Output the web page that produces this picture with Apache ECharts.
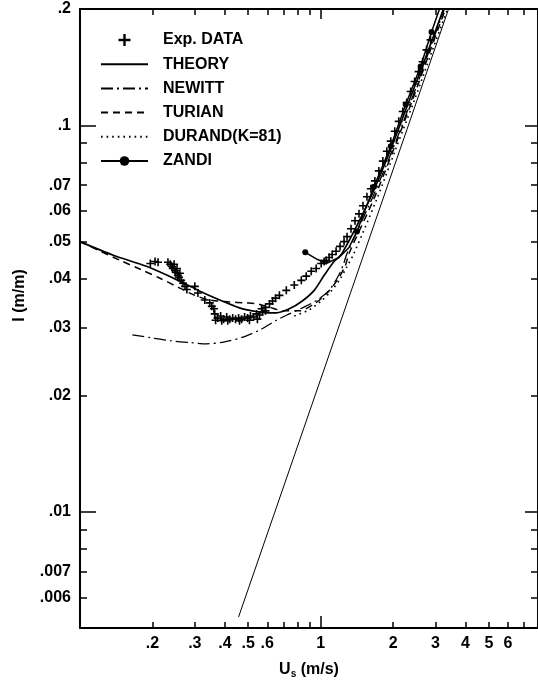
<!DOCTYPE html>
<html><head><meta charset="utf-8">
<script src="https://cdn.jsdelivr.net/npm/echarts@6/dist/echarts.min.js"></script>
<style>html,body{margin:0;padding:0;background:#fff}#c{width:538px;height:684px}</style>
</head><body><div id="c"></div>
<script>
// ---- axis ticks / labels ----
const xLabelValues = [0.2,0.3,0.4,0.5,0.6,1,2,3,4,5,6];
const xShortTicks = [0.2,0.3,0.4,0.5,0.6,0.7,0.8,0.9,2,3,4,5,6,7];
const xLongTicks = [1];
const yLabelValues = [0.006,0.007,0.01,0.02,0.03,0.04,0.05,0.06,0.07,0.1,0.2];
const yShortTicks = [0.006,0.007,0.008,0.009,0.02,0.03,0.04,0.05,0.06,0.07,0.08,0.09];
const yLongTicks = [0.01,0.1];

// ---- series ----
const expUs = [0.196,0.205,0.211,
  0.232,0.237,0.241,0.243,0.248,0.250,0.255,0.258,0.263,0.268,0.273,0.278,0.246,0.260,0.253,
  0.300,0.309,0.330,0.346,0.353,0.360,
  0.363,0.373,0.384,0.395,0.407,0.419,0.431,0.443,0.456,0.469,0.483,0.497,0.511,0.526,0.541,0.557,0.573,0.590,
  0.366,0.388,0.411,0.460,0.506,0.546,
  0.568,0.590,0.613,0.631,0.649,0.674,0.720,0.777,0.831,0.871,0.914,0.958,1.005,1.034,1.054,1.084,1.116,1.159,
  1.204,1.251,1.287,1.337,1.389,1.443,1.499,1.557,1.617,1.680,1.745,1.813,1.883,1.956,2.032,2.111,2.193,2.277,
  2.366,2.457,2.553,2.652,2.755,2.861];
const expI = [0.0439,0.0444,0.0442,
  0.0442,0.0437,0.0431,0.0426,0.0421,0.0416,0.0409,0.0404,0.0397,0.0390,0.0383,0.0376,0.0437,0.0414,0.0426,
  0.0383,0.0368,0.0353,0.0347,0.0340,0.0335,
  0.0325,0.0317,0.0321,0.0315,0.0319,0.0315,0.0317,0.0315,0.0317,0.0315,0.0319,0.0317,0.0321,0.0319,0.0325,0.0323,0.0329,0.0331,
  0.0313,0.0312,0.0312,0.0312,0.0313,0.0315,
  0.0335,0.0338,0.0345,0.0351,0.0357,0.0363,0.0374,0.0386,0.0397,0.0407,0.0419,0.0426,0.0439,0.0444,0.0447,0.0455,0.0463,0.0472,
  0.0486,0.0500,0.0515,0.0540,0.0566,0.0590,0.0619,0.0653,0.0685,0.0718,0.0762,0.0808,0.0857,0.0910,0.0965,0.1024,0.1086,0.1146,
  0.1223,0.1298,0.1377,0.1460,0.1568,0.1664];

const theoryUs = [0.1,0.1375,0.190,0.260,0.315,0.381,0.460,0.521,0.596,0.655,0.741,0.839,0.940,1.034,1.137,1.227,1.602,1.956,2.343,2.807,3.238];
const theoryI  = [0.05,0.0461,0.0431,0.0395,0.0372,0.0353,0.0337,0.0331,0.0327,0.0327,0.0335,0.0351,0.0374,0.0409,0.0444,0.0466,0.0645,0.0868,0.1166,0.1568,0.2];

const newittUs = [0.165,0.196,0.237,0.286,0.336,0.399,0.483,0.568,0.655,0.741,0.839,0.967,1.084,1.170,1.239,1.287,1.633,1.994,2.388,2.834,3.269];
const newittI  = [0.0287,0.0282,0.0277,0.0274,0.0272,0.0275,0.0284,0.0297,0.0313,0.0325,0.0337,0.0353,0.0374,0.0402,0.0434,0.0466,0.0645,0.0868,0.1166,0.1568,0.2];

const turianUs = [0.1,0.1215,0.147,0.178,0.215,0.260,0.300,0.346,0.419,0.483,0.546,0.613,0.707,0.815,0.940,1.064,1.170,1.262,1.312,1.664,2.013,2.411,2.861,3.301];
const turianI  = [0.05,0.0472,0.0447,0.0424,0.0402,0.0379,0.0363,0.0353,0.0349,0.0347,0.0345,0.0338,0.0331,0.0331,0.0345,0.0368,0.0397,0.0431,0.0466,0.0645,0.0868,0.1166,0.1568,0.2];

const durandUs = [0.777,0.897,1.005,1.105,1.204,1.287,1.375,1.712,2.051,2.457,2.916,3.365];
const durandI  = [0.0321,0.0333,0.0351,0.0372,0.0400,0.0431,0.0466,0.0645,0.0868,0.1166,0.1568,0.2];

const zandiUs = [0.863,0.967,1.054,1.192,1.312,1.415,1.664,1.956,2.256,2.602,2.888,3.117];
const zandiI  = [0.0469,0.0450,0.0439,0.0455,0.0483,0.0531,0.0693,0.0883,0.1132,0.1419,0.1744,0.2];
const zandiDotUs = [0.863,1.415,1.664,1.956,2.256,2.602,2.888];

const waterUs = [0.456,3.40];
const waterI  = [0.00534,0.2];

// ---- build ----
const pair = (xs, ys) => xs.map((x, i) => [x, ys[i]]);
const FONT = 'Liberation Sans';
const fmt = v => String(+v.toPrecision(6)).replace(/^0\./, '.');

const plusPath = 'path://M4,0H6V4H10V6H6V10H4V6H0V4H4Z';

function tickAxis(base, vals, len, extra) {
  return Object.assign({
    axisLine: {show: false},
    axisLabel: {show: false},
    splitLine: {show: false},
    axisTick: {show: true, inside: true, length: len, customValues: vals,
      lineStyle: {color: '#000', width: 1.5}}
  }, base, extra || {});
}

const xBase = {type: 'log', logBase: 10, min: 0.1, max: 8, gridIndex: 0};
const yBase = {type: 'log', logBase: 10, min: 0.005, max: 0.2, gridIndex: 0};

const xAxes = [
  Object.assign({}, xBase, {
    position: 'bottom',
    axisLine: {show: true, lineStyle: {color: '#000', width: 2}},
    axisTick: {show: true, inside: true, length: 6, customValues: xShortTicks, lineStyle: {color: '#000', width: 1.5}},
    axisLabel: {show: true, customValues: xLabelValues, formatter: fmt, margin: 8,
      color: '#000', fontFamily: FONT, fontWeight: 'bold', fontSize: 16},
    splitLine: {show: false},
    name: 'U{s|s} (m/s)', nameLocation: 'middle', nameGap: 33,
    nameTextStyle: {color: '#000', fontFamily: FONT, fontWeight: 'bold', fontSize: 16,
      rich: {s: {fontSize: 10, fontWeight: 'bold', fontFamily: FONT, color: '#000', verticalAlign: 'bottom', padding: [8, 0, 0, 0]}}}
  }),
  tickAxis(xBase, xLongTicks, 12, {position: 'bottom'}),
  tickAxis(xBase, xShortTicks, 6, {position: 'top', axisLine: {show: true, lineStyle: {color: '#000', width: 2}}}),
  tickAxis(xBase, xLongTicks, 10, {position: 'top'})
];
const yAxes = [
  Object.assign({}, yBase, {
    position: 'left',
    axisLine: {show: true, lineStyle: {color: '#000', width: 2}},
    axisTick: {show: true, inside: true, length: 7, customValues: yShortTicks, lineStyle: {color: '#000', width: 1.5}},
    axisLabel: {show: true, customValues: yLabelValues, formatter: fmt, margin: 9,
      color: '#000', fontFamily: FONT, fontWeight: 'bold', fontSize: 16},
    splitLine: {show: false},
    name: 'I (m/m)', nameLocation: 'middle', nameGap: 52, nameRotate: 90,
    nameTextStyle: {color: '#000', fontFamily: FONT, fontWeight: 'bold', fontSize: 16, padding: [0, 0, 0, 46]}
  }),
  tickAxis(yBase, yLongTicks, 16, {position: 'left'}),
  tickAxis(yBase, yShortTicks, 7, {position: 'right', axisLine: {show: true, lineStyle: {color: '#000', width: 2}}}),
  tickAxis(yBase, yLongTicks, 13, {position: 'right'})
];

const zandiData = pair(zandiUs, zandiI).map(p =>
  zandiDotUs.indexOf(p[0]) >= 0 ? {value: p} : {value: p, symbol: 'none'});

const noSym = {opacity: 0};
const option = {
  animation: false,
  backgroundColor: '#fff',
  grid: {left: 80, top: 9, width: 460, height: 622, containLabel: false},
  xAxis: xAxes,
  yAxis: yAxes,
  legend: {
    orient: 'vertical', left: 100, top: 32, padding: 0,
    itemWidth: 47, itemHeight: 12, itemGap: 8.2,
    selectedMode: false,
    textStyle: {color: '#000', fontFamily: FONT, fontWeight: 'bold', fontSize: 16, padding: [0, 0, 0, 10]},
    data: [
      {name: 'Exp. DATA'},
      {name: 'THEORY', itemStyle: noSym},
      {name: 'NEWITT', itemStyle: noSym},
      {name: 'TURIAN', itemStyle: noSym},
      {name: 'DURAND(K=81)', itemStyle: noSym},
      {name: 'ZANDI'}
    ]
  },
  series: [
    {name: 'water', type: 'line', data: pair(waterUs, waterI), symbol: 'none',
      itemStyle: {color: '#000'}, lineStyle: {color: '#000', width: 1}, z: 2},
    {name: 'THEORY', type: 'line', data: pair(theoryUs, theoryI), symbol: 'none', smooth: 0.3,
      itemStyle: {color: '#000'}, lineStyle: {color: '#000', width: 1.7}, z: 3},
    {name: 'NEWITT', type: 'line', data: pair(newittUs, newittI), symbol: 'none', smooth: 0.3,
      itemStyle: {color: '#000'}, lineStyle: {color: '#000', width: 1.3, type: [12, 4, 2, 4]}, z: 3},
    {name: 'TURIAN', type: 'line', data: pair(turianUs, turianI), symbol: 'none', smooth: 0.3,
      itemStyle: {color: '#000'}, lineStyle: {color: '#000', width: 1.5, type: [7, 5]}, z: 3},
    {name: 'DURAND(K=81)', type: 'line', data: pair(durandUs, durandI), symbol: 'none', smooth: 0.3,
      itemStyle: {color: '#000'}, lineStyle: {color: '#000', width: 1.6, type: [1.6, 4]}, z: 3},
    {name: 'ZANDI', type: 'line', data: zandiData, symbol: 'circle', symbolSize: 6, showSymbol: true,
      itemStyle: {color: '#000'}, lineStyle: {color: '#000', width: 1.5}, z: 4},
    {name: 'Exp. DATA', type: 'scatter', data: pair(expUs, expI), symbol: plusPath, symbolSize: 8,
      itemStyle: {color: '#000', opacity: 1}, z: 5}
  ]
};
const chart = echarts.init(document.getElementById('c'), null, {renderer: 'canvas'});
chart.setOption(option);
</script>
</body></html>
